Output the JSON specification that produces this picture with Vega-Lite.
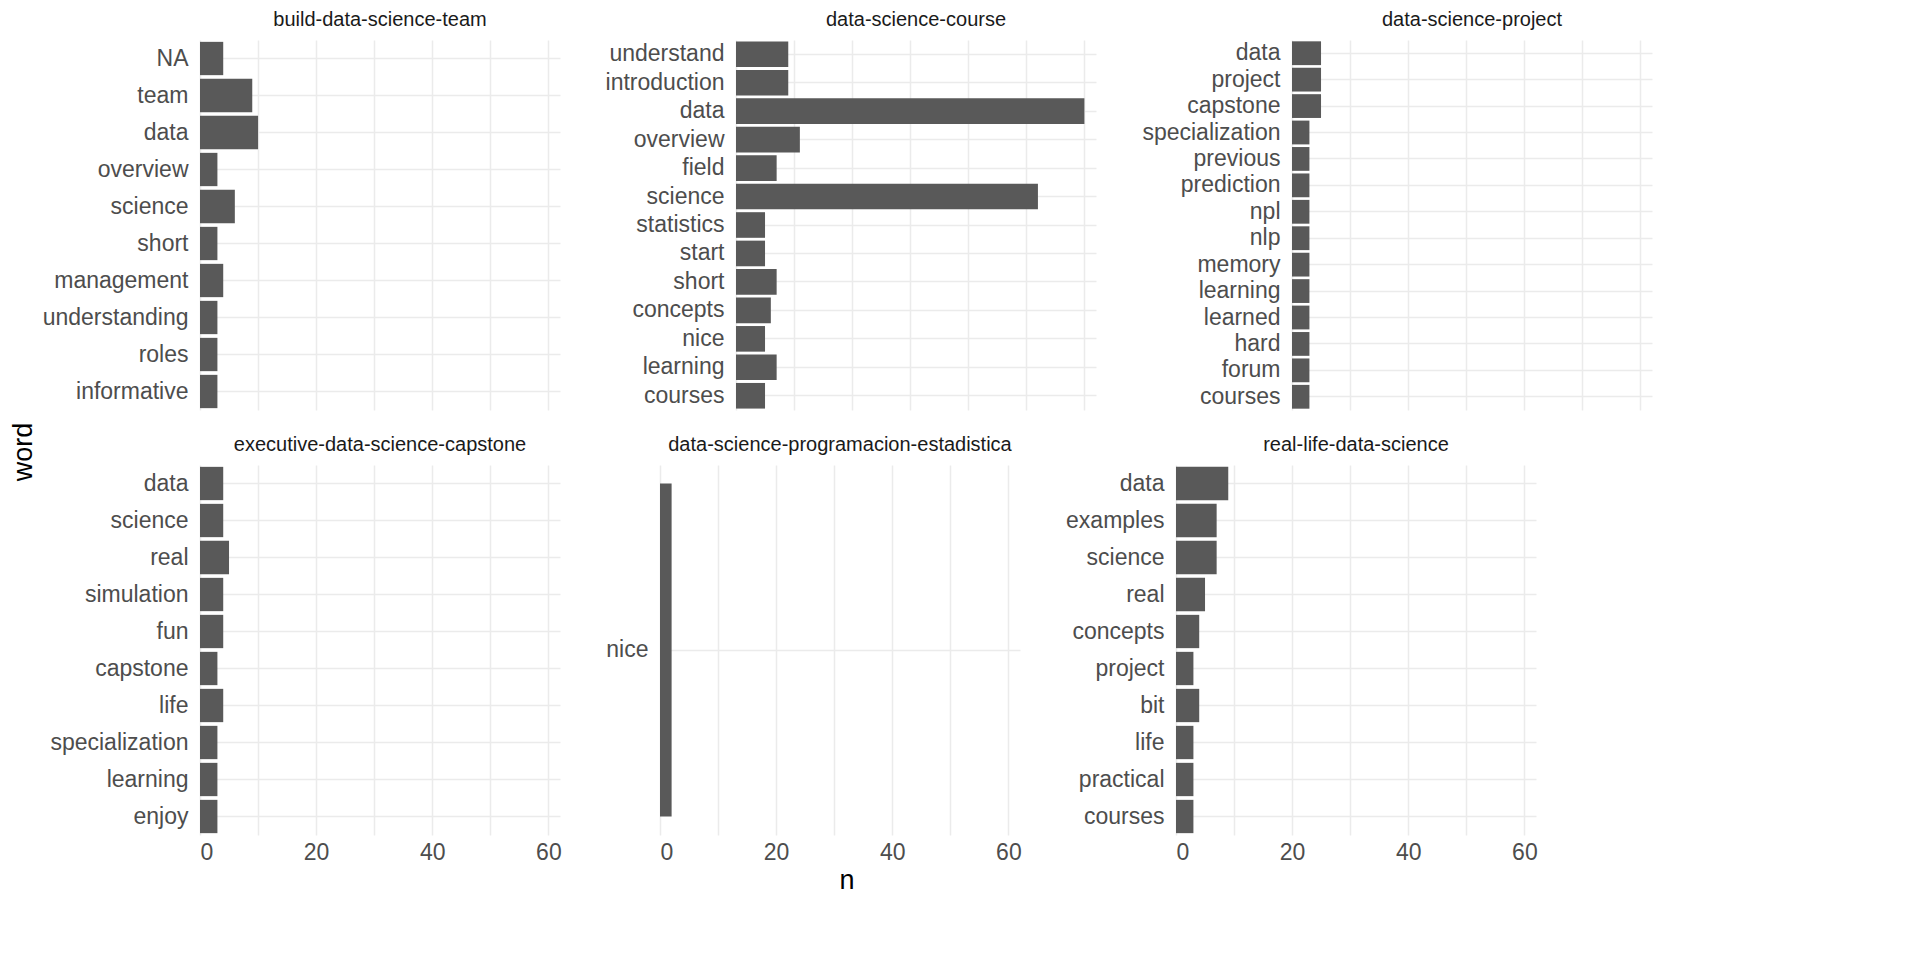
{
  "$schema": "https://vega.github.io/schema/vega-lite/v6.json",
  "background": "white",
  "config": {
    "font": "Liberation Sans",
    "view": {"stroke": null},
    "axis": {"domain": false, "ticks": false, "gridColor": "#ebebeb", "gridWidth": 1.5, "labelColor": "#4d4d4d", "labelFontSize": 23, "labelPadding": 6},
    "header": {"labelFontSize": 20, "labelColor": "#1a1a1a", "title": null, "labelLimit": 380},
    "title": {"fontSize": 27, "fontWeight": "normal", "color": "black"}
  },
  "padding": {"left": 10, "top": 10, "right": 10, "bottom": 5},
  "title": {"text": "word", "orient": "left", "anchor": "middle"},
  "vconcat": [
    {
      "title": {"text": "n", "orient": "bottom", "anchor": "middle"},
      "data": {"values": [
        {"g":"build-data-science-team","o":1,"word":"NA","n":4},
        {"g":"build-data-science-team","o":2,"word":"team","n":9},
        {"g":"build-data-science-team","o":3,"word":"data","n":10},
        {"g":"build-data-science-team","o":4,"word":"overview","n":3},
        {"g":"build-data-science-team","o":5,"word":"science","n":6},
        {"g":"build-data-science-team","o":6,"word":"short","n":3},
        {"g":"build-data-science-team","o":7,"word":"management","n":4},
        {"g":"build-data-science-team","o":8,"word":"understanding","n":3},
        {"g":"build-data-science-team","o":9,"word":"roles","n":3},
        {"g":"build-data-science-team","o":10,"word":"informative","n":3},
        {"g":"data-science-course","o":1,"word":"understand","n":9},
        {"g":"data-science-course","o":2,"word":"introduction","n":9},
        {"g":"data-science-course","o":3,"word":"data","n":60},
        {"g":"data-science-course","o":4,"word":"overview","n":11},
        {"g":"data-science-course","o":5,"word":"field","n":7},
        {"g":"data-science-course","o":6,"word":"science","n":52},
        {"g":"data-science-course","o":7,"word":"statistics","n":5},
        {"g":"data-science-course","o":8,"word":"start","n":5},
        {"g":"data-science-course","o":9,"word":"short","n":7},
        {"g":"data-science-course","o":10,"word":"concepts","n":6},
        {"g":"data-science-course","o":11,"word":"nice","n":5},
        {"g":"data-science-course","o":12,"word":"learning","n":7},
        {"g":"data-science-course","o":13,"word":"courses","n":5},
        {"g":"data-science-project","o":1,"word":"data","n":5},
        {"g":"data-science-project","o":2,"word":"project","n":5},
        {"g":"data-science-project","o":3,"word":"capstone","n":5},
        {"g":"data-science-project","o":4,"word":"specialization","n":3},
        {"g":"data-science-project","o":5,"word":"previous","n":3},
        {"g":"data-science-project","o":6,"word":"prediction","n":3},
        {"g":"data-science-project","o":7,"word":"npl","n":3},
        {"g":"data-science-project","o":8,"word":"nlp","n":3},
        {"g":"data-science-project","o":9,"word":"memory","n":3},
        {"g":"data-science-project","o":10,"word":"learning","n":3},
        {"g":"data-science-project","o":11,"word":"learned","n":3},
        {"g":"data-science-project","o":12,"word":"hard","n":3},
        {"g":"data-science-project","o":13,"word":"forum","n":3},
        {"g":"data-science-project","o":14,"word":"courses","n":3},
        {"g":"executive-data-science-capstone","o":1,"word":"data","n":4},
        {"g":"executive-data-science-capstone","o":2,"word":"science","n":4},
        {"g":"executive-data-science-capstone","o":3,"word":"real","n":5},
        {"g":"executive-data-science-capstone","o":4,"word":"simulation","n":4},
        {"g":"executive-data-science-capstone","o":5,"word":"fun","n":4},
        {"g":"executive-data-science-capstone","o":6,"word":"capstone","n":3},
        {"g":"executive-data-science-capstone","o":7,"word":"life","n":4},
        {"g":"executive-data-science-capstone","o":8,"word":"specialization","n":3},
        {"g":"executive-data-science-capstone","o":9,"word":"learning","n":3},
        {"g":"executive-data-science-capstone","o":10,"word":"enjoy","n":3},
        {"g":"data-science-programacion-estadistica","o":1,"word":"nice","n":2},
        {"g":"real-life-data-science","o":1,"word":"data","n":9},
        {"g":"real-life-data-science","o":2,"word":"examples","n":7},
        {"g":"real-life-data-science","o":3,"word":"science","n":7},
        {"g":"real-life-data-science","o":4,"word":"real","n":5},
        {"g":"real-life-data-science","o":5,"word":"concepts","n":4},
        {"g":"real-life-data-science","o":6,"word":"project","n":3},
        {"g":"real-life-data-science","o":7,"word":"bit","n":4},
        {"g":"real-life-data-science","o":8,"word":"life","n":3},
        {"g":"real-life-data-science","o":9,"word":"practical","n":3},
        {"g":"real-life-data-science","o":10,"word":"courses","n":3}
      ]},
      "facet": {"field": "g", "type": "nominal", "sort": ["build-data-science-team", "data-science-course", "data-science-project", "executive-data-science-capstone", "data-science-programacion-estadistica", "real-life-data-science"]},
      "columns": 3,
      "spacing": {"row": 25, "column": 45},
      "resolve": {"scale": {"y": "independent"}},
      "spec": {
        "width": 360,
        "height": 370,
        "mark": {"type": "bar", "color": "#595959"},
        "encoding": {
          "x": {"field": "n", "type": "quantitative", "title": null, "scale": {"domain": [0, 62], "nice": false},
                "axis": {"values": [0,10,20,30,40,50,60], "labelExpr": "datum.value % 20 == 0 ? datum.label : ''"}},
          "y": {"field": "word", "type": "nominal", "title": null, "sort": {"field": "o", "op": "min"},
                "scale": {"paddingInner": 0.1, "paddingOuter": 0.05},
                "axis": {"grid": true, "bandPosition": 0.5, "labelPadding": 12}}
        }
      }
    }
  ]
}
